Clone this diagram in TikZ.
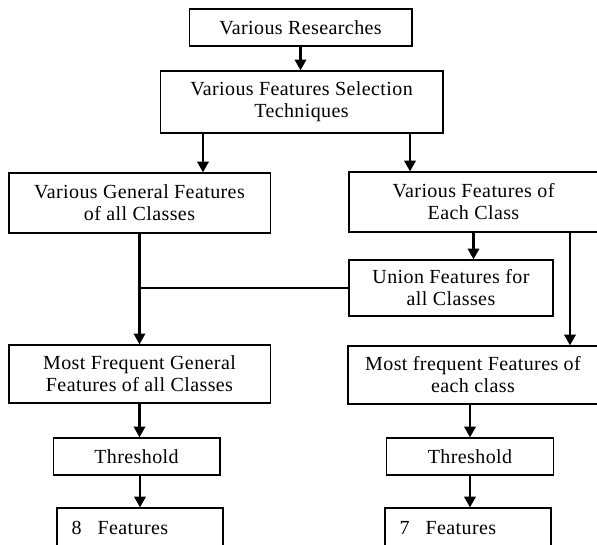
\documentclass[tikz,border=0pt]{standalone}
\usepackage{fontspec}
\setmainfont{Liberation Serif}[LetterSpace=2]
\usepackage{tikz}
\usetikzlibrary{positioning, arrows.meta, shapes}

\begin{document}
\begin{tikzpicture}[x=0.75pt, y=-0.75pt,
    box/.style={draw, line width=1pt, align=center, inner sep=0pt,
                font=\fontsize{15}{16.5}\selectfont},
    arr/.style={line width=1.6pt, -{Triangle[length=8pt, width=8.5pt]}}]
        \useasboundingbox (0,0) rectangle (597,544);

        % Top of the chart
        \node[box, minimum width=167pt, minimum height=27.75pt] (res) at (300.5,27.5) {Various Researches};
        \node[box, minimum width=212pt, minimum height=46.5pt] (tech) at (301.5,102) {Various Features Selection\\Techniques};

        % Two branches
        \node[box, minimum width=196pt, minimum height=45pt] (gen) at (139.5,203) {Various General Features\\of all Classes};
        \node[box, minimum width=187pt, minimum height=45pt] (each) at (473.5,202) {Various Features of\\Each Class};
        \node[box, minimum width=153pt, minimum height=42pt] (union) at (451,288) {Union Features for\\all Classes};
        \node[box, minimum width=196pt, minimum height=43.5pt] (mfg) at (139.5,374) {Most Frequent General\\Features of all Classes};
        \node[box, minimum width=187.5pt, minimum height=43.5pt] (mfe) at (473,375) {Most frequent Features of\\each class};

        % Thresholds and results
        \node[box, minimum width=125pt, minimum height=27.75pt] (thrL) at (136.5,456.5) {Threshold};
        \node[box, minimum width=125pt, minimum height=27.75pt] (thrR) at (470,456.5) {Threshold};
        \node[box, align=left, text width=102.5pt, inner xsep=11pt, minimum height=30pt] (featL) at (140,528) {8\hspace{12pt}Features};
        \node[box, align=left, text width=102.5pt, inner xsep=11pt, minimum height=30pt] (featR) at (468,528) {7\hspace{12pt}Features};

        \coordinate (tl) at (203,0);
        \coordinate (tr) at (410,0);
        \coordinate (rr) at (570,0);

        % Arrows
        \draw[arr] (res.south) -- (res.south |- tech.north);
        \draw[arr] (tech.south -| tl) -- (gen.north -| tl);
        \draw[arr] (tech.south -| tr) -- (each.north -| tr);
        \draw[arr] (gen.south) -- (mfg.north);
        \draw[arr] (each.south) -- (each.south |- union.north);
        \draw[arr] (each.south -| rr) -- (mfe.north -| rr);
        \draw[line width=1pt] (union.west) -- (gen.south |- union.west);
        \draw[arr] (mfg.south) -- (mfg.south |- thrL.north);
        \draw[arr] (thrL.south -| featL.north) -- (featL.north);
        \draw[arr] (mfe.south -| thrR.north) -- (thrR.north);
        \draw[arr] (thrR.south) -- (thrR.south |- featR.north);
    \end{tikzpicture}
\end{document}
